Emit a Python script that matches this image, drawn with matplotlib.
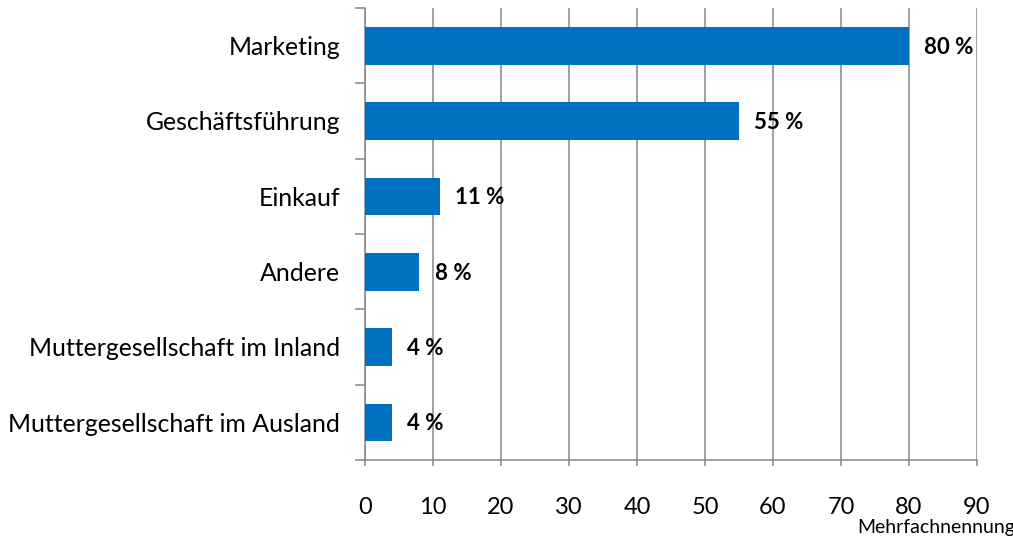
import matplotlib.pyplot as plt
import numpy as np

# categories from top to bottom
categories = ["Marketing", "Geschäftsführung", "Einkauf", "Andere",
              "Muttergesellschaft im Inland", "Muttergesellschaft im Ausland"]
values = [80, 55, 11, 8, 4, 4]
xticks = [0, 10, 20, 30, 40, 50, 60, 70, 80, 90]

plt.rcParams['font.family'] = ['Lato', 'DejaVu Sans']

fig = plt.figure(figsize=(10.13, 5.39), dpi=100)
ax = fig.add_axes([365/1013, 1 - 460/539, 612/1013, 452/539])

y = np.arange(len(categories))
ax.barh(y, values, height=0.5, color='#0070C0', zorder=3)

# value labels right of each bar
for yi, v in zip(y, values):
    ax.annotate(f"{v} %", (v, yi), xytext=(11, -1), textcoords='offset points',
                va='center', ha='left', fontsize=16, fontweight='bold')

ax.set_xlim(0, 90)
ax.set_ylim(len(categories) - 0.5, -0.5)
ax.set_xticks(xticks)
ax.set_xticklabels([str(t) for t in xticks], fontsize=17)
ax.set_yticks(y)
ax.set_yticklabels(categories, fontsize=17.9)
ax.set_yticks(np.arange(-0.5, len(categories)), minor=True)

grey = '#868686'
ax.grid(axis='x', color=grey, linewidth=1.1, zorder=0)
for s in ['top', 'right']:
    ax.spines[s].set_visible(False)
for s in ['left', 'bottom']:
    ax.spines[s].set_color(grey)
    ax.spines[s].set_linewidth(1.1)

ax.tick_params(axis='y', which='major', length=0, pad=18)
ax.tick_params(axis='y', which='minor', length=7, color=grey, width=1.1)
ax.tick_params(axis='x', which='major', length=4.5, color=grey, width=1.1, pad=22)

fig.text(857/1013, 1 - 533/539, "Mehrfachnennung", fontsize=14, ha='left', va='baseline')

fig.savefig("out.png", dpi=100)
